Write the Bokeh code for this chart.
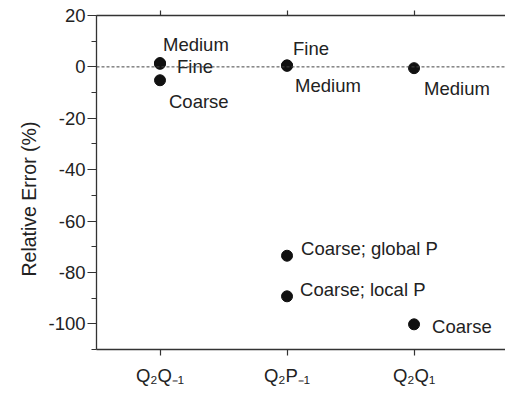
from bokeh.plotting import figure
from bokeh.models import (ColumnDataSource, Span, LinearAxis, FixedTicker,
                          SingleIntervalTicker, Range1d, Title)
from bokeh.embed import file_html
from bokeh.resources import INLINE
from bokeh.core.properties import value

# ---- data ----
categories = ["Q\u2082Q\u208b\u2081", "Q\u2082P\u208b\u2081", "Q\u2082Q\u2081"]
point_cat = [1, 1, 1, 2, 2, 2, 2, 3, 3]
point_err = [1.5, 1.2, -5.2, 0.6, 0.4, -73.5, -89.3, -0.5, -100.2]
point_label = ["Medium", "Fine", "Coarse", "Fine", "Medium",
               "Coarse; global P", "Coarse; local P", "Medium", "Coarse"]
y_ticks = [-100, -80, -60, -40, -20, 0, 20]

# label offsets (screen px) - styling only
lab_dx = [3, 17, 9, 6, 8, 14, 13, 10, 18]
lab_dy = [-19, 3, 21, -17, 20, -7, -7, 20, 2]

FONT = "Liberation Sans"
INK = "#222222"

p = figure(width=505, height=394, output_backend="svg", toolbar_location=None,
           x_range=Range1d(0.5, 3.72), y_range=Range1d(-110, 20),
           x_axis_location=None, y_axis_location=None, min_border=0,
           min_border_left=96, min_border_right=0, min_border_top=15, min_border_bottom=45)
p.outline_line_color = None
p.grid.visible = False
p.background_fill_color = "white"
p.border_fill_color = "white"

# left axis
ly = LinearAxis(ticker=SingleIntervalTicker(interval=20, num_minor_ticks=2))
ly.major_label_overrides = {t: str(t) for t in y_ticks}
# bottom axis
bx = LinearAxis(ticker=FixedTicker(ticks=[1, 2, 3]))
bx.major_label_overrides = {i + 1: c for i, c in enumerate(categories)}
# top axis (ticks only)
tx = LinearAxis(ticker=FixedTicker(ticks=[1, 2, 3]))
tx.major_label_overrides = {1: "", 2: "", 3: ""}

for ax in (ly, bx, tx):
    ax.axis_line_color = "#333333"
    ax.axis_line_width = 1.3
    ax.major_tick_line_color = "#333333"
    ax.minor_tick_line_color = "#333333"
    ax.major_tick_line_width = 1.2
    ax.minor_tick_line_width = 1.2
    ax.major_tick_in = 0
    ax.minor_tick_in = 0
    ax.major_label_text_font = FONT
    ax.major_label_text_color = INK

ly.major_tick_out = 9
ly.minor_tick_out = 5
ly.major_label_text_font_size = "18.5px"
ly.major_label_standoff = 2

bx.major_tick_out = 6
bx.minor_tick_line_color = None
bx.major_label_text_font_size = "18.5px"
bx.major_label_standoff = 9

tx.major_tick_out = 5
tx.minor_tick_line_color = None
tx.major_label_standoff = 0
tx.major_label_text_font_size = "1px"

p.add_layout(ly, "left")
p.add_layout(bx, "below")
p.add_layout(tx, "above")

ytitle = Title(text="Relative Error (%)", align="left", offset=73,
               text_font=FONT, text_font_size="19.5px", text_font_style="normal",
               text_color=INK, standoff=12)
p.add_layout(ytitle, "left")

# zero reference line
p.add_layout(Span(location=0, dimension="width", line_color="#444444",
                  line_width=1, line_dash="3 2"))

src = ColumnDataSource(dict(x=point_cat, y=point_err, label=point_label,
                            dx=lab_dx, dy=lab_dy))
p.scatter("x", "y", source=src, size=11, color="#111111")
p.text("x", "y", text="label", source=src, x_offset="dx", y_offset="dy",
       text_font=value(FONT), text_font_size="18.5px", text_color=INK,
       text_align="left", text_baseline="middle")

open("out.html", "w").write(file_html(p, INLINE))
